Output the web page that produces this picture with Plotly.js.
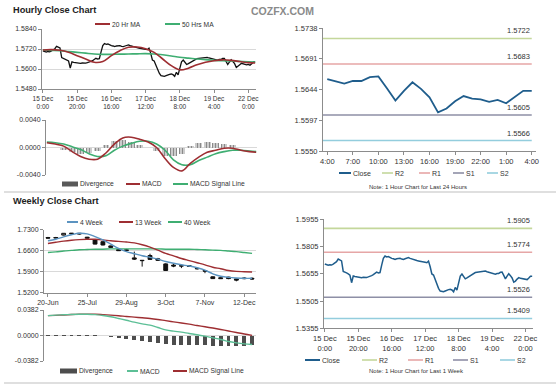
<!DOCTYPE html>
<html><head><meta charset="utf-8">
<script src="https://cdn.plot.ly/plotly-3.0.1.min.js"></script>
<style>html,body{margin:0;padding:0;background:#fff}#chart{width:560px;height:385px}</style>
</head><body><div id="chart"></div>
<script>
// ---------- DATA ----------
// Hourly close, 15 Dec 0:00 .. 22 Dec 4:00 (125 hourly points)
const hourlyClose = [
1.5709,1.5706,1.5702,1.5705,1.5703,1.5708,1.5715,1.5722,1.5736,1.5730,
1.5726,1.5668,1.5662,1.5660,1.5655,1.5648,1.5606,1.5643,1.5640,1.5638,
1.5637,1.5635,1.5634,1.5636,1.5635,1.5635,1.5638,1.5640,1.5645,1.5650,
1.5655,1.5664,1.5660,1.5662,1.5703,1.5740,1.5753,1.5748,1.5750,1.5744,
1.5740,1.5738,1.5734,1.5738,1.5740,1.5740,1.5736,1.5734,1.5738,1.5742,
1.5744,1.5740,1.5736,1.5734,1.5730,1.5728,1.5726,1.5725,1.5722,1.5720,
1.5718,1.5716,1.5725,1.5694,1.5654,1.5648,1.5620,1.5593,1.5575,1.5560,
1.5558,1.5556,1.5560,1.5565,1.5568,1.5570,1.5566,1.5556,1.5580,1.5565,
1.5600,1.5643,1.5654,1.5640,1.5627,1.5632,1.5638,1.5645,1.5652,1.5660,
1.5662,1.5664,1.5666,1.5667,1.5668,1.5670,1.5670,1.5666,1.5664,1.5662,
1.5660,1.5656,1.5653,1.5657,1.5657,1.5663,1.5664,1.5646,1.5627,1.5642,
1.5655,1.5645,1.5632,1.5609,1.5615,1.5626,1.5634,1.5630,1.5629,1.5625,
1.5628,1.5623,1.5632,1.5642,1.5642];
const hourlyTickVals = [0,20,40,60,80,100,120];
const hourlyTickText = ['15 Dec<br>0:00','15 Dec<br>20:00','16 Dec<br>16:00','17 Dec<br>12:00','18 Dec<br>8:00','19 Dec<br>4:00','22 Dec<br>0:00'];

// hourly indicators, sampled every 5 hours
const hourlyStep = [0,5,10,15,20,25,30,35,40,45,50,55,60,65,70,75,80,85,90,95,100,105,110,115,120,124];
const ma20 = [1.5714,1.5716,1.5712,1.5700,1.5680,1.5660,1.5640,1.5645,1.5680,1.5710,1.5730,1.5732,1.5722,1.5700,1.5660,1.5620,1.5595,1.5605,1.5625,1.5640,1.5650,1.5655,1.5652,1.5645,1.5638,1.5636];
const ma50 = [1.5714,1.5712,1.5710,1.5705,1.5700,1.5695,1.5690,1.5688,1.5688,1.5689,1.5690,1.5691,1.5692,1.5690,1.5685,1.5678,1.5670,1.5665,1.5660,1.5656,1.5652,1.5650,1.5648,1.5646,1.5643,1.5641];
const hMacd = [0.0007,0.0005,0.0002,-0.0006,-0.0013,-0.0017,-0.0017,-0.0008,0.0005,0.0014,0.0015,0.0012,0.0008,0.0000,-0.0016,-0.0029,-0.0034,-0.0023,-0.0014,-0.0007,-0.0004,-0.0001,-0.0001,-0.0004,-0.0006,-0.0007];
const hSignal = [0.0008,0.0007,0.0005,0.0001,-0.0003,-0.0009,-0.0013,-0.0012,-0.0004,0.0002,0.0006,0.0009,0.0009,0.0005,-0.0004,-0.0018,-0.0025,-0.0025,-0.0019,-0.0014,-0.0009,-0.0006,-0.0004,-0.0004,-0.0005,-0.0006];
const hDiv = [0,-0.0001,-0.0003,-0.0006,-0.0009,-0.0008,-0.0005,0.0004,0.0009,0.0011,0.0008,0.0003,-0.0001,-0.0005,-0.0012,-0.0013,-0.0009,0.0002,0.0006,0.0008,0.0006,0.0005,0.0003,0,-0.0001,-0.0001];
const hMacdTickVals = [-0.004,0,0.004];
const hMacdTickText = ['-0.0040','0.0000','0.0040'];

// last 24 hours
const dayTickVals = [0,3,6,9,12,15,18,21,24];
const dayTickText = ['4:00','7:00','10:00','13:00','16:00','19:00','22:00','1:00','4:00'];
const dayYTicks = [1.5550,1.5597,1.5644,1.5691,1.5738];
const dayLevelNames = ['R2','R1','S1','S2'];
const dayLevels = [1.5722,1.5683,1.5605,1.5566];

// weekly
const weekTickVals = [0,5,10,15,20,25];
const weekTickText = ['20-Jun','25-Jul','29-Aug','3-Oct','7-Nov','12-Dec'];
const wOpen  = [1.704,1.702,1.712,1.716,1.718,1.705,1.696,1.690,1.676,1.664,1.663,1.636,1.628,1.644,1.633,1.616,1.612,1.610,1.610,1.601,1.594,1.573,1.570,1.572,1.566,1.569,1.568];
const wHigh  = [1.706,1.706,1.719,1.719,1.719,1.706,1.697,1.691,1.677,1.666,1.666,1.657,1.629,1.650,1.636,1.618,1.616,1.612,1.612,1.604,1.595,1.574,1.571,1.573,1.567,1.572,1.571];
const wLow   = [1.700,1.701,1.711,1.714,1.714,1.700,1.681,1.678,1.670,1.659,1.660,1.629,1.607,1.629,1.626,1.593,1.605,1.602,1.606,1.597,1.585,1.566,1.566,1.565,1.558,1.565,1.563];
const wClose = [1.702,1.704,1.718,1.718,1.716,1.702,1.682,1.679,1.671,1.660,1.661,1.632,1.627,1.631,1.628,1.594,1.609,1.609,1.608,1.600,1.592,1.567,1.567,1.567,1.562,1.567,1.566];
const ma4w  = [1.693,1.698,1.706,1.713,1.718,1.716,1.707,1.696,1.682,1.668,1.657,1.650,1.643,1.638,1.632,1.624,1.618,1.613,1.609,1.603,1.595,1.583,1.575,1.571,1.569,1.568,1.568];
const ma13w = [1.684,1.688,1.692,1.695,1.697,1.698,1.698,1.696,1.693,1.691,1.689,1.686,1.680,1.672,1.662,1.651,1.643,1.634,1.627,1.620,1.613,1.605,1.600,1.594,1.591,1.590,1.589];
const ma40w = [1.654,1.656,1.659,1.661,1.663,1.664,1.665,1.665,1.666,1.666,1.666,1.666,1.666,1.666,1.666,1.665,1.665,1.665,1.665,1.664,1.663,1.662,1.661,1.659,1.657,1.654,1.651];
const wMacd   = [0.0297,0.0305,0.0310,0.0315,0.0318,0.0318,0.0312,0.0300,0.0280,0.0255,0.0228,0.0200,0.0175,0.0155,0.0120,0.0085,0.0065,0.0050,0.0030,0.0012,-0.0010,-0.0035,-0.0060,-0.0090,-0.0110,-0.0125,-0.0135];
const wSignal = [0.0297,0.0302,0.0308,0.0314,0.0318,0.0320,0.0318,0.0312,0.0305,0.0296,0.0285,0.0275,0.0265,0.0255,0.0240,0.0222,0.0205,0.0188,0.0170,0.0150,0.0132,0.0112,0.0090,0.0068,0.0045,0.0022,0.0002];
const wDiv    = [0.0004,0.0004,0.0004,0.0004,0.0003,0.0003,0.0002,-0.0010,-0.0025,-0.0040,-0.0055,-0.0070,-0.0080,-0.0090,-0.0110,-0.0130,-0.0140,-0.0140,-0.0140,-0.0140,-0.0145,-0.0150,-0.0150,-0.0155,-0.0155,-0.0150,-0.0140];
const wYTickVals = [1.52,1.59,1.66,1.73];
const wYTickText = ['1.5200','1.5900','1.6600','1.7300'];
const wMacdTickVals = [-0.0382,0,0.0382];
const wMacdTickText = ['-0.0382','0.0000','0.0382'];

// last week (hourly)
const weekYTicks = [1.5355,1.5505,1.5655,1.5805,1.5955];
const weekLevelNames = ['R2','R1','S1','S2'];
const weekLevels = [1.5905,1.5774,1.5526,1.5409];

// ---------- STYLE ----------
const W = 560, H = 385;
const FONT = 'Liberation Sans, Arial, sans-serif';
const levelColors = ['#c4d79b','#e6a6a6','#8e8fa6','#93cddd'];
const CLOSE_C = '#1f5d8c';
const RED = '#9e2e32', GREEN = '#3fae72', BLUE = '#5b93c0', GRID = '#d9d9d9', AX = '#8c8c8c';
const dx = (a,b) => [a/W, b/W];
const dy = (top,bot) => [1-bot/H, 1-top/H];
const px = x => x/W, py = y => 1-y/H;

const hourIdx = hourlyClose.map((_,i)=>i);
const dayClose = hourlyClose.slice(hourlyClose.length-25);
const dayIdx = dayClose.map((_,i)=>i);
const weekIdx = wClose.map((_,i)=>i);

const traces = [];
// A: hourly price
traces.push({x:hourIdx, y:hourlyClose, type:'scatter', mode:'lines', line:{color:'#111', width:1.3}, xaxis:'x', yaxis:'y', name:'Close'});
traces.push({x:hourlyStep, y:ma50, type:'scatter', mode:'lines', line:{color:GREEN, width:1.6, shape:'spline'}, xaxis:'x', yaxis:'y', name:'50 Hrs MA'});
traces.push({x:hourlyStep, y:ma20, type:'scatter', mode:'lines', line:{color:RED, width:1.6, shape:'spline'}, xaxis:'x', yaxis:'y', name:'20 Hr MA'});
// B: hourly MACD
traces.push({x:hourlyStep, y:hDiv, type:'bar', width:4, marker:{color:'#9a9a9a', line:{width:0}, pattern:{shape:'|', fgcolor:'#8a8a8a', bgcolor:'#e2e2e2', size:3, solidity:0.5}}, xaxis:'x2', yaxis:'y2', name:'Divergence'});
traces.push({x:hourlyStep, y:hSignal, type:'scatter', mode:'lines', line:{color:GREEN, width:1.6, shape:'spline'}, xaxis:'x2', yaxis:'y2', name:'MACD Signal Line'});
traces.push({x:hourlyStep, y:hMacd, type:'scatter', mode:'lines', line:{color:RED, width:1.6, shape:'spline'}, xaxis:'x2', yaxis:'y2', name:'MACD'});
// C: last 24 hours
dayLevels.forEach((v,i)=>traces.push({x:[-0.5,24], y:[v,v], type:'scatter', mode:'lines', line:{color:levelColors[i], width:1.6}, xaxis:'x3', yaxis:'y3', name:dayLevelNames[i]}));
traces.push({x:dayIdx, y:dayClose, type:'scatter', mode:'lines', line:{color:CLOSE_C, width:1.8}, xaxis:'x3', yaxis:'y3', name:'Close'});
// D: weekly price
traces.push({x:weekIdx, open:wOpen, high:wHigh, low:wLow, close:wClose, type:'candlestick', xaxis:'x4', yaxis:'y4', whiskerwidth:0,
  increasing:{line:{color:'#111', width:1}, fillcolor:'#ffffff'}, decreasing:{line:{color:'#111', width:1}, fillcolor:'#111'}, name:'Weekly'});
traces.push({x:weekIdx, y:ma40w, type:'scatter', mode:'lines', line:{color:GREEN, width:1.4, shape:'spline'}, xaxis:'x4', yaxis:'y4', name:'40 Week'});
traces.push({x:weekIdx, y:ma13w, type:'scatter', mode:'lines', line:{color:RED, width:1.4, shape:'spline'}, xaxis:'x4', yaxis:'y4', name:'13 Week'});
traces.push({x:weekIdx, y:ma4w, type:'scatter', mode:'lines', line:{color:BLUE, width:1.4, shape:'spline'}, xaxis:'x4', yaxis:'y4', name:'4 Week'});
// E: weekly MACD
traces.push({x:weekIdx, y:wDiv, type:'bar', width:0.5, marker:{color:'#4d4d4d'}, xaxis:'x5', yaxis:'y5', name:'Divergence'});
traces.push({x:weekIdx, y:wSignal, type:'scatter', mode:'lines', line:{color:RED, width:1.4, shape:'spline'}, xaxis:'x5', yaxis:'y5', name:'MACD Signal Line'});
traces.push({x:weekIdx, y:wMacd, type:'scatter', mode:'lines', line:{color:'#5cbf96', width:1.4, shape:'spline'}, xaxis:'x5', yaxis:'y5', name:'MACD'});
// F: last week hourly
weekLevels.forEach((v,i)=>traces.push({x:[-0.5,124], y:[v,v], type:'scatter', mode:'lines', line:{color:levelColors[i], width:1.6}, xaxis:'x6', yaxis:'y6', name:weekLevelNames[i]}));
traces.push({x:hourIdx, y:hourlyClose, type:'scatter', mode:'lines', line:{color:CLOSE_C, width:1.5}, xaxis:'x6', yaxis:'y6', name:'Close'});
traces.forEach(t=>{t.showlegend=false; t.hoverinfo='skip';});

const tf = s => ({size:s, color:'#333', family:FONT});
const baseX = {showgrid:false, zeroline:false, showline:true, linecolor:AX, linewidth:1, ticks:'outside', ticklen:3, tickcolor:AX, tickangle:0, fixedrange:true};
const baseY = {zeroline:false, showline:true, linecolor:AX, linewidth:1, ticks:'outside', ticklen:3, tickcolor:AX, gridcolor:GRID, gridwidth:1, fixedrange:true};

const layout = {
  width:W, height:H, margin:{l:0,r:0,t:0,b:0}, paper_bgcolor:'#fff', plot_bgcolor:'rgba(0,0,0,0)',
  font:{family:FONT, size:7, color:'#333'}, showlegend:false, bargap:0, barmode:'overlay',
  xaxis: Object.assign({}, baseX, {domain:dx(42,256), range:[-0.5,124.5], anchor:'y', tickvals:hourlyTickVals, ticktext:hourlyTickText, tickfont:tf(6.5)}),
  yaxis: Object.assign({}, baseY, {domain:dy(29,89), range:[1.548,1.584], anchor:'x', tickvals:[1.548,1.56,1.572,1.584], ticktext:['1.5480','1.5600','1.5720','1.5840'], showgrid:true, tickfont:tf(7)}),
  xaxis2: Object.assign({}, baseX, {domain:dx(46,257), range:[-0.5,124.5], anchor:'y2', showticklabels:false, ticks:'', showline:false}),
  yaxis2: Object.assign({}, baseY, {domain:dy(120,175), range:[-0.004,0.004], anchor:'x2', tickvals:hMacdTickVals, ticktext:hMacdTickText, showgrid:true, tickfont:tf(7)}),
  xaxis3: Object.assign({}, baseX, {domain:dx(323,536), range:[-0.5,24.5], anchor:'y3', tickvals:dayTickVals, ticktext:dayTickText, tickfont:tf(7.5)}),
  yaxis3: Object.assign({}, baseY, {domain:dy(28,151), range:[1.555,1.5738], anchor:'x3', tickvals:dayYTicks, ticktext:dayYTicks.map(v=>v.toFixed(4)), showgrid:false, tickfont:tf(7.5)}),
  xaxis4: Object.assign({}, baseX, {domain:dx(44,256), range:[-0.5,26.5], anchor:'y4', tickvals:weekTickVals, ticktext:weekTickText, tickfont:tf(7), rangeslider:{visible:false}}),
  yaxis4: Object.assign({}, baseY, {domain:dy(229.7,292.7), range:[1.52,1.73], anchor:'x4', tickvals:wYTickVals, ticktext:wYTickText, showgrid:true, tickfont:tf(7)}),
  xaxis5: Object.assign({}, baseX, {domain:dx(44,256), range:[-0.5,26.5], anchor:'y5', showticklabels:false, ticks:'', showline:false}),
  yaxis5: Object.assign({}, baseY, {domain:dy(310,361), range:[-0.0382,0.0382], anchor:'x5', tickvals:wMacdTickVals, ticktext:wMacdTickText, showgrid:true, tickfont:tf(7)}),
  xaxis6: Object.assign({}, baseX, {domain:dx(324,533), range:[-0.5,124.5], anchor:'y6', tickvals:hourlyTickVals, ticktext:hourlyTickText, tickfont:tf(7.5)}),
  yaxis6: Object.assign({}, baseY, {domain:dy(219.3,328.3), range:[1.5355,1.5955], anchor:'x6', tickvals:weekYTicks, ticktext:weekYTicks.map(v=>v.toFixed(4)), showgrid:false, tickfont:tf(7.5)}),
  shapes:[], annotations:[]
};

const sh = layout.shapes, an = layout.annotations;
function hline(x0,x1,y,color,w){ sh.push({type:'line', xref:'paper', yref:'paper', x0:px(x0), x1:px(x1), y0:py(y), y1:py(y), line:{color:color, width:w}}); }
function box(x0,x1,y,color){ sh.push({type:'rect', xref:'paper', yref:'paper', x0:px(x0), x1:px(x1), y0:py(y+2.5), y1:py(y-2.5), line:{width:0}, fillcolor:color}); }
function txt(x,y,text,size,opts){ an.push(Object.assign({xref:'paper', yref:'paper', x:px(x), y:py(y), text:text, showarrow:false, xanchor:'left', yanchor:'middle', borderpad:0, font:{size:size, color:'#333', family:FONT}}, opts||{})); }

// separators
hline(4,556,192,'#bfbfbf',1);
hline(4,556,383,'#bfbfbf',1);
// titles
txt(12,10,'<b>Hourly Close Chart</b>',9,{font:{size:9.2,color:'#222',family:FONT}});
txt(12,201,'<b>Weekly Close Chart</b>',9,{font:{size:9.2,color:'#222',family:FONT}});
txt(250,11,'<b>COZFX.COM</b>',10.5,{font:{size:10.5,color:'#8a8a8a',family:FONT}});
// legend A
hline(95,110,24,RED,2); txt(111,24,'20 Hr MA',6.7);
hline(165,180,24,GREEN,2); txt(181,24,'50 Hrs MA',6.7);
// legend B
box(62,78,184,'#595959'); txt(79,184,'Divergence',6.7);
hline(126,140,184,RED,2); txt(141,184,'MACD',6.7);
hline(173,188,184,GREEN,2); txt(189,184,'MACD Signal Line',6.7);
// legend C
hline(339,351,173,CLOSE_C,2); txt(352,173,'Close',7);
[382,419,453,487].forEach((x,i)=>{ hline(x,x+11,173,levelColors[i],1.6); txt(x+12,173,dayLevelNames[i],7); });
txt(418,187,'Note: 1 Hour Chart for Last 24 Hours',6,{xanchor:'center'});
// legend D
hline(67,78,222,BLUE,2); txt(79,222,'4 Week',6.7);
hline(119,133,222,RED,2); txt(134,222,'13 Week',6.7);
hline(168,182,222,GREEN,2); txt(183,222,'40 Week',6.7);
// legend E
box(60,77,371,'#4d4d4d'); txt(78,371,'Divergence',6.7);
hline(127,138,371,'#5cbf96',2); txt(139,371,'MACD',6.7);
hline(173,187,371,RED,2); txt(188,371,'MACD Signal Line',6.7);
// legend F
hline(305,320,360,CLOSE_C,2); txt(321,360,'Close',7);
[362,408,453,500].forEach((x,i)=>{ hline(x,x+15,360,levelColors[i],1.6); txt(x+16,360,weekLevelNames[i],7); });
txt(416,371,'Note: 1 Hour Chart for Last 1 Week',6,{xanchor:'center'});
// level labels
dayLevels.forEach(v=>an.push({xref:'x3', yref:'y3', x:24, y:v, text:v.toFixed(4), showarrow:false, xanchor:'right', yanchor:'bottom', yshift:1, font:{size:7.5, color:'#333', family:FONT}}));
weekLevels.forEach(v=>an.push({xref:'x6', yref:'y6', x:124, y:v, text:v.toFixed(4), showarrow:false, xanchor:'right', yanchor:'bottom', yshift:1, font:{size:7.5, color:'#333', family:FONT}}));

Plotly.newPlot('chart', traces, layout, {staticPlot:true, displayModeBar:false});
</script></body></html>
